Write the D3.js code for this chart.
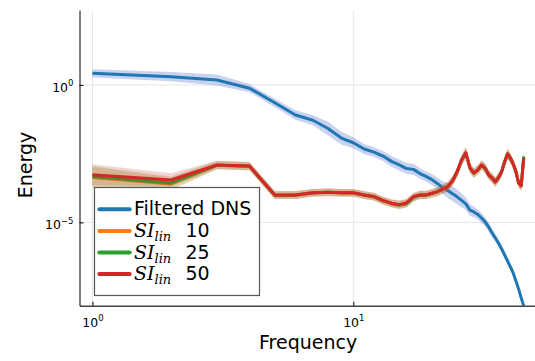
<!DOCTYPE html>
<html>
<head>
<meta charset="utf-8">
<script src="https://cdn.jsdelivr.net/npm/d3@7"></script>
<style>
  body { margin: 0; background: #fff; }
  svg { display: block; }
</style>
</head>
<body>
<svg id="chart" width="535" height="361"></svg>
<script>
// Wavenumber / frequency index of each spectrum sample
const frequency = [1, 2, 3, 4, 5, 6, 7, 8, 9, 10, 11, 12, 13, 14, 15, 16, 17, 18, 19, 20,
  21, 22, 23, 24, 25, 26, 27, 28, 29, 30, 31, 32, 33, 34, 35, 36, 37, 38, 39, 40,
  41, 42, 43, 44, 45];

// Mean energy spectrum of the filtered DNS
const dnsEnergy = [2.66, 2.0, 1.51, 0.76, 0.224, 0.081, 0.052, 0.026, 0.0117, 0.0079,
  4.7e-3, 3.6e-3, 2.6e-3, 1.66e-3, 1.23e-3, 9.1e-4, 8.5e-4, 6.0e-4, 4.7e-4, 3.6e-4,
  2.6e-4, 1.86e-4, 1.45e-4, 1.1e-4, 8.5e-5, 6.3e-5, 4.7e-5, 2.8e-5, 2.4e-5, 1.95e-5,
  1.45e-5, 1.05e-5, 6.9e-6, 4.2e-6, 2.75e-6, 1.78e-6, 1.1e-6, 6.6e-7, 4.0e-7, 2.4e-7,
  1.45e-7, 7.4e-8, 3.8e-8, 1.8e-8, 9.1e-9];
// Spread of the DNS ensemble, in decades either side of the mean
const dnsSpread = [0.15, 0.17, 0.2, 0.15, 0.15, 0.17, 0.18, 0.25, 0.23, 0.2,
  0.18, 0.18, 0.18, 0.2, 0.2, 0.2, 0.2, 0.19, 0.18, 0.2,
  0.21, 0.23, 0.27, 0.27, 0.27, 0.25, 0.23, 0.21, 0.19, 0.18,
  0.18, 0.17, 0.17, 0.15, 0.14, 0.14, 0.13, 0.13, 0.12, 0.12,
  0.12, 0.12, 0.12, 0.12, 0.12];

// Spectra of the linear stochastic interpolant for 10, 25 and 50 steps
const siLin10 = [4.3e-4, 2.5e-4, 1.2e-3, 1.1e-3, 9.6e-5, 9.8e-5, 1.18e-4, 1.24e-4, 1.18e-4, 1.18e-4,
  9.8e-5, 8.5e-5, 6.1e-5, 4.8e-5, 4.3e-5, 4.9e-5, 8.2e-5, 9.8e-5, 9.8e-5, 1.13e-4,
  1.3e-4, 1.6e-4, 2.0e-4, 3.2e-4, 6.8e-4, 1.82e-3, 3.3e-3, 9.3e-4, 6.2e-4, 8.0e-4,
  1.2e-3, 9.3e-4, 5.3e-4, 4.1e-4, 2.9e-4, 4.1e-4, 6.8e-4, 1.55e-3, 3.0e-3, 2.2e-3,
  1.32e-3, 7.0e-4, 2.7e-4, 2.1e-4, 2.2e-3];
const siLin25 = [4.7e-4, 2.7e-4, 1.21e-3, 1.11e-3, 9.8e-5, 9.9e-5, 1.19e-4, 1.25e-4, 1.19e-4, 1.19e-4,
  9.9e-5, 8.6e-5, 6.2e-5, 4.9e-5, 4.3e-5, 4.8e-5, 8.0e-5, 9.9e-5, 9.9e-5, 1.14e-4,
  1.31e-4, 1.61e-4, 2.0e-4, 3.2e-4, 6.8e-4, 1.84e-3, 3.4e-3, 9.4e-4, 6.2e-4, 8.1e-4,
  1.22e-3, 9.4e-4, 5.4e-4, 4.2e-4, 3.0e-4, 4.2e-4, 6.9e-4, 1.57e-3, 3.1e-3, 2.2e-3,
  1.34e-3, 7.1e-4, 2.7e-4, 2.15e-4, 2.5e-3];
const siLin50 = [5.4e-4, 3.5e-4, 1.23e-3, 1.12e-3, 1.0e-4, 1.0e-4, 1.2e-4, 1.26e-4, 1.2e-4, 1.2e-4,
  1.0e-4, 8.7e-5, 6.3e-5, 5.0e-5, 4.4e-5, 5.2e-5, 8.7e-5, 1.0e-4, 1.0e-4, 1.15e-4,
  1.32e-4, 1.62e-4, 2.0e-4, 3.2e-4, 6.9e-4, 1.86e-3, 3.4e-3, 9.5e-4, 6.3e-4, 8.1e-4,
  1.23e-3, 9.5e-4, 5.4e-4, 4.2e-4, 3.0e-4, 4.2e-4, 6.9e-4, 1.58e-3, 3.1e-3, 2.2e-3,
  1.35e-3, 7.1e-4, 2.7e-4, 2.15e-4, 2.2e-3];
// Spread of the interpolant ensembles, in decades either side of the mean
const siSpread = [0.38, 0.24, 0.15, 0.15, 0.14, 0.14, 0.14, 0.14, 0.14, 0.14,
  0.14, 0.14, 0.14, 0.14, 0.15, 0.15, 0.15, 0.15, 0.15, 0.15,
  0.16, 0.16, 0.17, 0.17, 0.18, 0.19, 0.2, 0.18, 0.17, 0.17,
  0.17, 0.17, 0.17, 0.17, 0.17, 0.17, 0.17, 0.18, 0.19, 0.18,
  0.17, 0.17, 0.17, 0.17, 0.19];

const seriesNames = ["Filtered DNS", "10", "25", "50"];
const seriesColors = ["#1f77b4", "#ff7f0e", "#2ca02c", "#d62728"];

// Axis ticks: values and the exponent shown as 10^n
const xTickValues = [1, 10];
const xTickExponents = [0, 1];
const yTickValues = [1, 1e-5];
const yTickExponents = [0, -5];

const series = [
  { name: seriesNames[0], values: dnsEnergy, spread: dnsSpread, color: seriesColors[0], band: "rgb(60,95,195)", bandOpacity: 0.28, si: false },
  { name: seriesNames[1], values: siLin10, spread: siSpread, color: seriesColors[1], band: seriesColors[1], bandOpacity: 0.2, si: true },
  { name: seriesNames[2], values: siLin25, spread: siSpread, color: seriesColors[2], band: seriesColors[2], bandOpacity: 0.2, si: true },
  { name: seriesNames[3], values: siLin50, spread: siSpread, color: seriesColors[3], band: seriesColors[3], bandOpacity: 0.2, si: true }
];

const svg = d3.select("#chart");
const font = "DejaVu Sans, sans-serif";
const box = { left: 79.5, right: 536.8, top: 10, bottom: 305.7 };

const x = d3.scaleLog().domain([0.892, 50.5]).range([box.left, box.right]);
const y = d3.scaleLog().domain([9.33e-9, 533]).range([box.bottom, box.top]);

svg.append("defs").append("clipPath").attr("id", "plot-clip")
  .append("rect")
  .attr("x", box.left).attr("y", box.top)
  .attr("width", box.right - box.left).attr("height", box.bottom - box.top);

// Grid
const grid = svg.append("g").attr("stroke", "#e6e6e6").attr("stroke-width", 1);
grid.selectAll(".gx").data(xTickValues).join("line")
  .attr("x1", d => x(d)).attr("x2", d => x(d))
  .attr("y1", box.top).attr("y2", box.bottom);
grid.selectAll(".gy").data(yTickValues).join("line")
  .attr("x1", box.left).attr("x2", box.right)
  .attr("y1", d => y(d)).attr("y2", d => y(d));

// Ribbons and mean lines, drawn series by series
const plotG = svg.append("g").attr("clip-path", "url(#plot-clip)");
series.forEach(s => {
  const rows = frequency.map((f, i) => ({ f, v: s.values[i], sp: s.spread[i] }));
  const area = d3.area()
    .x(d => x(d.f))
    .y0(d => y(d.v * Math.pow(10, -d.sp)))
    .y1(d => y(d.v * Math.pow(10, d.sp)));
  plotG.append("path").datum(rows)
    .attr("d", area)
    .attr("fill", s.band).attr("fill-opacity", s.bandOpacity);
  const line = d3.line().x(d => x(d.f)).y(d => y(d.v));
  plotG.append("path").datum(rows)
    .attr("d", line)
    .attr("fill", "none").attr("stroke", s.color)
    .attr("stroke-width", 3).attr("stroke-linejoin", "round");
});

// Axes
function powerText(text, exp) {
  text.text(null);
  text.append("tspan").text("10");
  text.append("tspan").attr("dy", -5.5).attr("font-size", 8.5)
    .text(exp < 0 ? "\u2212" + (-exp) : String(exp));
}

const xAxis = d3.axisBottom(x).tickValues(xTickValues)
  .tickSizeInner(-4).tickSizeOuter(0).tickFormat(() => "");
const gx = svg.append("g").attr("transform", `translate(0,${box.bottom})`).call(xAxis);
gx.select(".domain").attr("stroke", "#444").attr("stroke-width", 1.4);
gx.selectAll(".tick line").attr("stroke", "#000");
gx.selectAll(".tick text").each(function (d, i) {
  const t = d3.select(this).attr("y", 21).attr("dy", null)
    .attr("font-family", font).attr("font-size", 12.5).attr("fill", "#000");
  powerText(t, xTickExponents[i]);
});

const yAxis = d3.axisLeft(y).tickValues(yTickValues)
  .tickSizeInner(-4).tickSizeOuter(0).tickFormat(() => "");
const gy = svg.append("g").attr("transform", `translate(${box.left},0)`).call(yAxis);
gy.select(".domain").attr("stroke", "#000").attr("stroke-width", 1);
gy.selectAll(".tick line").attr("stroke", "#000");
gy.selectAll(".tick text").each(function (d, i) {
  const t = d3.select(this).attr("x", -6).attr("y", 6.5).attr("dy", null)
    .attr("font-family", font).attr("font-size", 12.5).attr("fill", "#000")
    .attr("text-anchor", "end");
  powerText(t, yTickExponents[i]);
});

// Axis titles
svg.append("text")
  .attr("x", (box.left + box.right) / 2).attr("y", 349)
  .attr("text-anchor", "middle")
  .attr("font-family", font).attr("font-size", 19)
  .text("Frequency");
svg.append("text")
  .attr("transform", "translate(32,165) rotate(-90)")
  .attr("text-anchor", "middle")
  .attr("font-family", font).attr("font-size", 19)
  .text("Energy");

// Legend
const legend = svg.append("g");
legend.append("rect")
  .attr("x", 94.5).attr("y", 187.5).attr("width", 165).attr("height", 108)
  .attr("fill", "#fff").attr("stroke", "#555").attr("stroke-width", 1.2);
series.forEach((s, i) => {
  const cy = 209.3 + i * 21.6;
  legend.append("line")
    .attr("x1", 99.3).attr("x2", 129.7).attr("y1", cy).attr("y2", cy)
    .attr("stroke", s.color).attr("stroke-width", 4).attr("stroke-linecap", "round");
  const t = legend.append("text")
    .attr("x", 134).attr("y", cy + 6)
    .attr("font-family", font).attr("font-size", 19).attr("fill", "#000");
  if (!s.si) {
    t.text(s.name);
  } else {
    t.append("tspan").attr("font-family", "DejaVu Serif, serif").attr("font-style", "italic")
      .attr("font-size", 19).text("SI");
    t.append("tspan").attr("font-family", "DejaVu Serif, serif").attr("font-style", "italic")
      .attr("font-size", 13).attr("dy", 4).text("lin");
    t.append("tspan").attr("x", 185.5).attr("dy", -4).text(s.name);
  }
});
</script>
</body>
</html>
